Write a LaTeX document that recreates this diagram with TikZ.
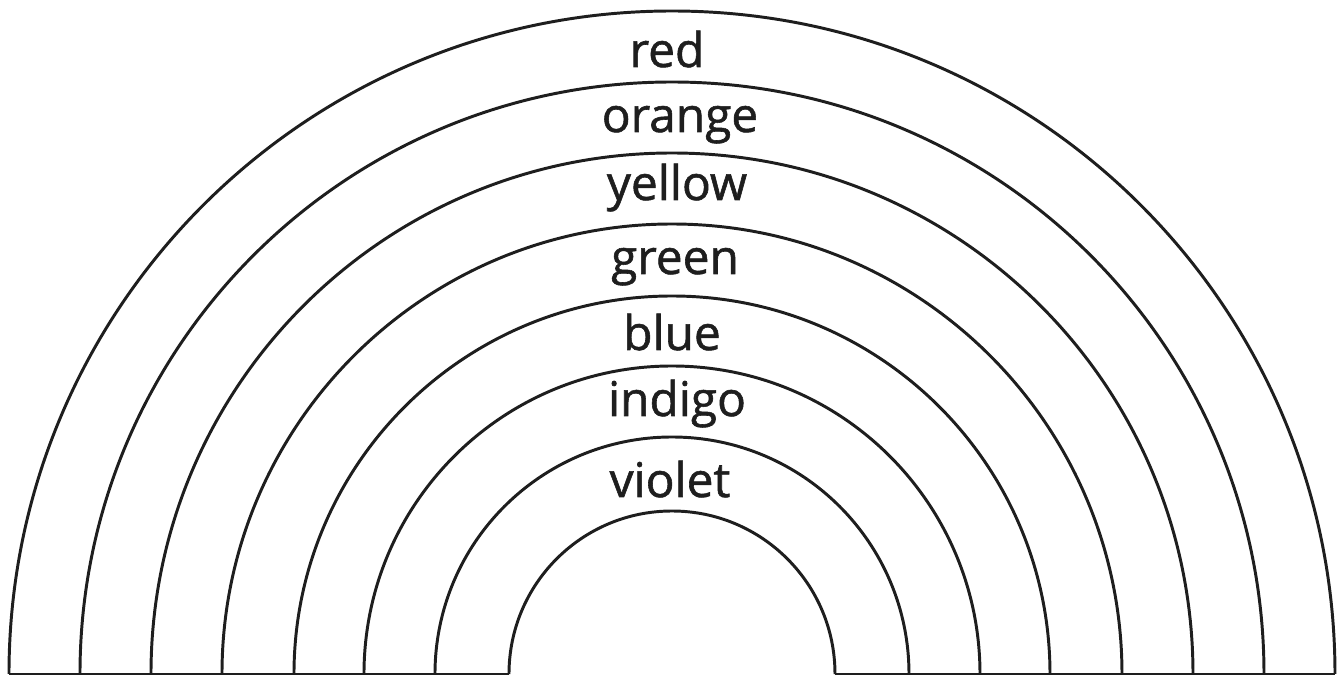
\documentclass[tikz,border=0pt]{standalone}
\usepackage{fontspec}
\setmainfont{Open Sans}
\newfontfamily\bandfont[FakeBold=1.2]{Open Sans}
\usepackage{tikz}
\usetikzlibrary{positioning, calc}
\definecolor{inkgray}{RGB}{30,30,30}
\tikzset{
  bandline/.style={draw=inkgray,line width=2.1pt},
  bandlabel/.style={anchor=base,inner sep=0pt,text=inkgray,font=\bandfont\fontsize{34}{38}\selectfont}
}
\begin{document}
\begin{tikzpicture}[x=0.025cm,y=0.025cm]
  \useasboundingbox (-672,-3) rectangle (670,674);
  % the eight arcs, outer to inner
  \foreach \r in {663,592,521,450,378,308,237,163}
    \draw[bandline] (-\r,0) arc (180:0:\r);
  % ground line, left and right of the arch
  \draw[bandline] (-663,0) -- (-163,0);
  \draw[bandline] (163,0) -- (663,0);
  % colour names
  \node[bandlabel] (red) at (-5,607) {red};
  \node[bandlabel] (orange) at (8,542) {orange};
  \node[bandlabel] (yellow) at (5,474) {yellow};
  \node[bandlabel] (green) at (3,400) {green};
  \node[bandlabel] (blue) at (0,324) {blue};
  \node[bandlabel] (indigo) at (5,258) {indigo};
  \node[bandlabel] (violet) at (-2,177) {violet};
\end{tikzpicture}
\end{document}
